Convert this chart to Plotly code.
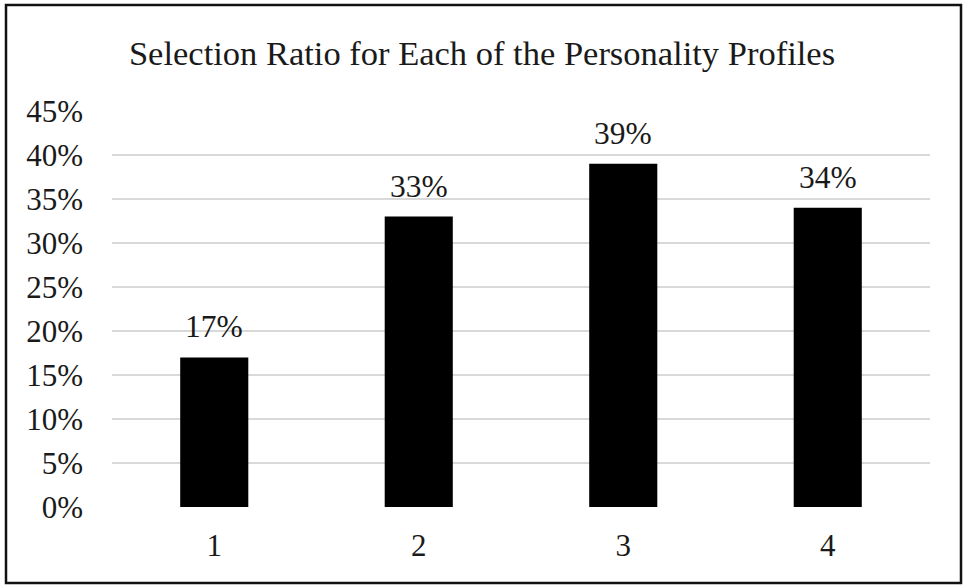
import plotly.graph_objects as go

# Selection ratio per personality profile
profiles = ["1", "2", "3", "4"]
ratios = [0.17, 0.33, 0.39, 0.34]
tick_vals = [0, 0.05, 0.10, 0.15, 0.20, 0.25, 0.30, 0.35, 0.40, 0.45]
tick_text = ["0%", "5%", "10%", "15%", "20%", "25%", "30%", "35%", "40%", "45%"]

FONT = "Liberation Serif, Times New Roman, serif"
INK = "#1a1a1a"

fig = go.Figure(
    go.Bar(
        x=profiles,
        y=ratios,
        marker=dict(color="#000000", line=dict(width=0)),
        cliponaxis=False,
        hoverinfo="x+y",
    )
)

# value labels sitting above each bar (category positions are indexed 0..n-1)
for i, v in enumerate(ratios):
    fig.add_annotation(
        x=i,
        y=v,
        xref="x",
        yref="y",
        text=f"{v:.0%}",
        showarrow=False,
        yanchor="bottom",
        yshift=11,
        font=dict(family=FONT, size=31.5, color=INK),
    )

fig.update_layout(
    width=964,
    height=586,
    margin=dict(l=112, r=34, t=111, b=79),
    paper_bgcolor="white",
    plot_bgcolor="white",
    bargap=0.667,
    showlegend=False,
    font=dict(family=FONT, size=31, color=INK),
    title=dict(
        text="Selection Ratio for Each of the Personality Profiles",
        x=0.5,
        xanchor="center",
        y=1 - 53 / 586,
        yanchor="middle",
        font=dict(family=FONT, size=34.5, color=INK),
    ),
    xaxis=dict(
        type="category",
        categoryorder="array",
        categoryarray=profiles,
        showgrid=False,
        showline=False,
        zeroline=False,
        ticks="",
        ticklabelstandoff=17,
        tickfont=dict(family=FONT, size=31, color=INK),
    ),
    yaxis=dict(
        range=[0, 0.45],
        tickvals=tick_vals,
        ticktext=tick_text,
        showgrid=True,
        gridcolor="#d9d9d9",
        gridwidth=1.5,
        zeroline=False,
        showline=False,
        ticks="",
        ticklabelstandoff=28,
        tickfont=dict(family=FONT, size=31, color=INK),
    ),
    shapes=[
        # outer frame around the whole chart
        dict(
            type="rect",
            xref="paper",
            yref="paper",
            x0=(6 - 112) / 818,
            x1=(961 - 112) / 818,
            y0=(507 - 583) / 396,
            y1=(507 - 5) / 396,
            line=dict(color="#111111", width=2.5),
            fillcolor="rgba(0,0,0,0)",
            layer="above",
        )
    ],
)

fig.write_html("out.html")
